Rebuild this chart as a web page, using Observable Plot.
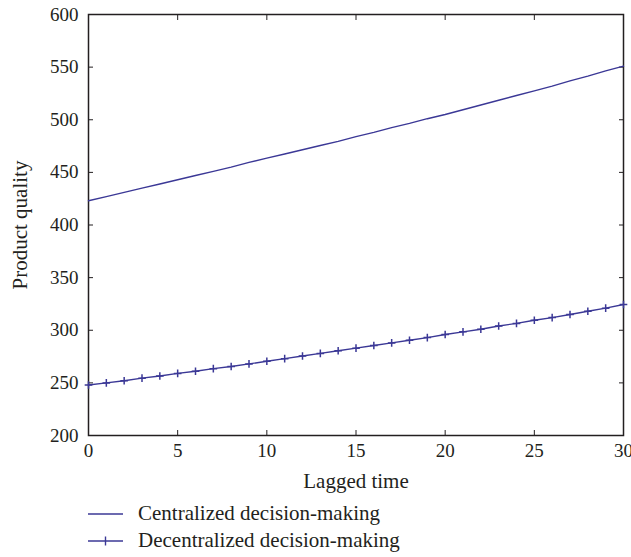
<!DOCTYPE html>
<html>
<head>
<meta charset="utf-8">
<script src="https://cdn.jsdelivr.net/npm/d3@7"></script>
<script src="https://cdn.jsdelivr.net/npm/@observablehq/plot@0.6"></script>
<style>
  body { margin: 0; background: #fff; font-family: "Liberation Serif", "DejaVu Serif", serif; }
  #legend { position: relative; margin-left: 88px; margin-top: 3px; font-size: 21px; color: #231f20; }
  .row { display: flex; align-items: center; height: 27px; }
  .row svg { margin-right: 14px; }
</style>
</head>
<body>
<div id="chart"></div>
<div id="legend"></div>
<script>
const lag = d3.range(0, 31);
const centralized = [423, 427, 431, 435, 439, 443, 447, 451, 455, 459.5, 463.5, 467.5, 471.5, 475.5, 479.5, 484, 488, 492.5, 496.5, 501, 505, 509.5, 514, 518.5, 523, 527.5, 532, 537, 541.5, 546.5, 551];
const decentralized = [248, 250, 252, 254.5, 256.5, 259, 261, 263.5, 265.5, 268, 270.5, 273, 275.5, 278, 280.5, 283, 285.5, 288, 290.5, 293, 296, 298.5, 301, 304, 306.5, 309.5, 312, 315, 318, 321, 324.5];
const seriesNames = ["Centralized decision-making", "Decentralized decision-making"];
const xTicks = [0, 5, 10, 15, 20, 25, 30];
const yTicks = [200, 250, 300, 350, 400, 450, 500, 550, 600];

const lineColor = "#3b3896";
const ink = "#231f20";
const cen = lag.map((t, i) => ({t, v: centralized[i]}));
const dec = lag.map((t, i) => ({t, v: decentralized[i]}));

const plusSymbol = {
  draw(ctx, size) {
    const r = Math.sqrt(size) / 2;
    ctx.moveTo(-r, 0); ctx.lineTo(r, 0);
    ctx.moveTo(0, -r); ctx.lineTo(0, r);
  }
};

const chart = Plot.plot({
  width: 631,
  height: 497,
  marginLeft: 88,
  marginRight: 8,
  marginTop: 14,
  marginBottom: 62,
  style: {fontFamily: "'Liberation Serif', 'DejaVu Serif', serif", fontSize: "19px", color: ink, background: "#fff"},
  x: {domain: [0, 30]},
  y: {domain: [200, 600]},
  marks: [
    Plot.axisX({ticks: xTicks, tickSize: -5, tickPadding: 13, label: null, stroke: ink}),
    Plot.axisX({ticks: xTicks, tickSize: 0, tickFormat: () => "", label: "Lagged time", labelAnchor: "center", labelArrow: "none", labelOffset: 52, fontSize: 21}),
    Plot.axisX({anchor: "top", ticks: xTicks, tickSize: -5, tickFormat: () => "", label: null, stroke: ink}),
    Plot.axisY({ticks: yTicks, tickSize: -5, tickPadding: 15, label: null, stroke: ink}),
    Plot.axisY({ticks: yTicks, tickSize: 0, tickFormat: () => "", label: "Product quality", labelAnchor: "center", labelArrow: "none", labelOffset: 76, fontSize: 21}),
    Plot.axisY({anchor: "right", ticks: yTicks, tickSize: -5, tickFormat: () => "", label: null, stroke: ink}),
    Plot.frame({stroke: ink, strokeWidth: 1.5}),
    Plot.line(cen, {x: "t", y: "v", stroke: lineColor, strokeWidth: 1.4}),
    Plot.line(dec, {x: "t", y: "v", stroke: lineColor, strokeWidth: 1.4}),
    Plot.dot(dec, {x: "t", y: "v", symbol: plusSymbol, r: 4.3, stroke: lineColor, strokeWidth: 1.5, fill: "none"})
  ]
});
document.getElementById("chart").appendChild(chart);

const legend = document.getElementById("legend");
seriesNames.forEach((name, i) => {
  const row = document.createElement("div");
  row.className = "row";
  const ns = "http://www.w3.org/2000/svg";
  const s = document.createElementNS(ns, "svg");
  s.setAttribute("width", 36); s.setAttribute("height", 14);
  const l = document.createElementNS(ns, "line");
  l.setAttribute("x1", 0); l.setAttribute("x2", 35); l.setAttribute("y1", 7); l.setAttribute("y2", 7);
  l.setAttribute("stroke", lineColor); l.setAttribute("stroke-width", 1.3);
  s.appendChild(l);
  if (i === 1) {
    const v = document.createElementNS(ns, "line");
    v.setAttribute("x1", 17.5); v.setAttribute("x2", 17.5); v.setAttribute("y1", 2.5); v.setAttribute("y2", 11.5);
    v.setAttribute("stroke", lineColor); v.setAttribute("stroke-width", 1.4);
    s.appendChild(v);
  }
  row.appendChild(s);
  const span = document.createElement("span");
  span.textContent = name;
  row.appendChild(span);
  legend.appendChild(row);
});
</script>
</body>
</html>
